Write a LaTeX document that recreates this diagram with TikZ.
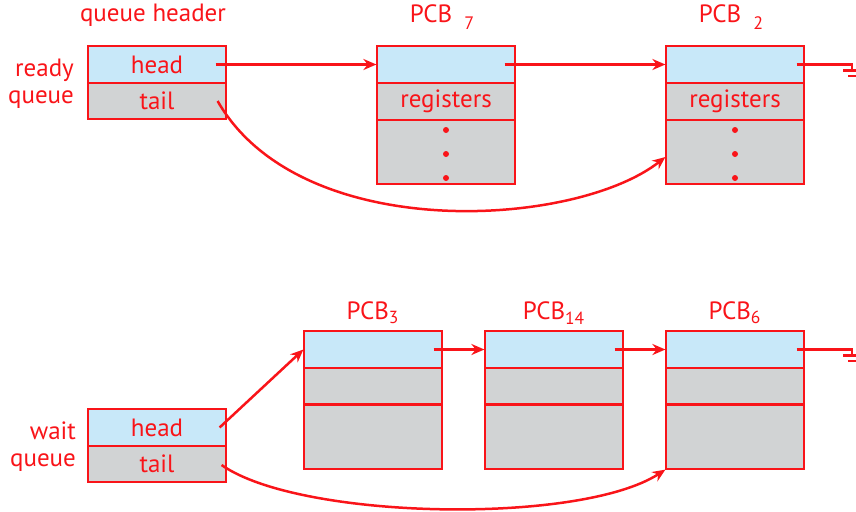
\documentclass[tikz,border=0pt]{standalone}
\usepackage{fontspec}
\setmainfont{PT Sans}
\usetikzlibrary{arrows.meta}

\definecolor{qred}{HTML}{F91419}
\definecolor{qblue}{HTML}{C8E8F9}
\definecolor{qgray}{HTML}{D1D3D4}

\tikzset{
  cell/.style={draw=qred, line width=0.6pt, minimum width=69pt, inner sep=0pt,
    text=qred, font=\fontsize{12.5}{14}\selectfont},
  toprow/.style={cell, fill=qblue, minimum height=18.5pt},
  midrow/.style={cell, fill=qgray, minimum height=18pt},
  lowrow/.style={cell, fill=qgray, minimum height=32pt},
  lbl/.style={text=qred, font=\fontsize{12.5}{14}\selectfont, inner sep=1pt},
  link/.style={qred, line width=1.25pt, -{Stealth[length=6.5pt, width=5.5pt]}},
  earth/.style={qred, line width=1.25pt}
}

\begin{document}
\begin{tikzpicture}[x=0.5pt, y=-0.5pt]
  \useasboundingbox (0,0) rectangle (856,511);

  % ready queue
  \node[lbl, align=right] (rq) at (41,84) {ready\\[-0.5pt]queue};
  \node[lbl] (hdr) at (153,15) {queue header};
  \node[toprow] (rh) at (157,64.5) {head};
  \node[midrow] (rt) at (157,101) {tail};

  \node[toprow] (p7t) at (446,64.5) {};
  \node[midrow] (p7m) at (446,101.5) {registers};
  \node[lowrow] (p7r) at (446,152) {};
  \node[lbl] at (442,17) {PCB\hspace{6pt}\raisebox{-0.6ex}{\small 7}};

  \node[toprow] (p2t) at (735,64.5) {};
  \node[midrow] (p2m) at (735,101.5) {registers};
  \node[lowrow] (p2r) at (735,152) {};
  \node[lbl] at (731,17) {PCB\hspace{6pt}\raisebox{-0.6ex}{\small 2}};

  \foreach \px in {446,735}
    \foreach \py in {130,154,178}
      \fill[qred] (\px,\py) circle (1.5pt);

  \draw[link] ([xshift=-5.5pt]rh.east) -- (p7t.west);
  \draw[link] ([xshift=-5.5pt]p7t.east) -- (p2t.west);
  \draw[link] ([xshift=-4.5pt]rt.east) .. controls (300,245) and (575,228) .. ([yshift=-2.5pt]p2r.west);

  \coordinate (g1) at (852,64.5);
  \draw[earth] ([xshift=-4pt]p2t.east) -- (g1) -- ++(0,6);
  \draw[earth] (843,70.5) -- (856,70.5);
  \draw[earth] (848,76) -- (856,76);

  % wait queue
  \node[lbl, align=right] (wq) at (43,446.5) {wait\\[-0.5pt]queue};
  \node[toprow] (wh) at (157,427.5) {head};
  \node[midrow] (wt) at (157,464) {tail};

  \node[toprow] (p3t) at (373,349.5) {};
  \node[midrow] (p3m) at (373,386) {};
  \node[lowrow] (p3r) at (373,437) {};
  \node[lbl] at (373,313) {PCB\textsubscript{3}};

  \node[toprow] (p14t) at (554,349.5) {};
  \node[midrow] (p14m) at (554,386) {};
  \node[lowrow] (p14r) at (554,437) {};
  \node[lbl] at (554,313) {PCB\textsubscript{14}};

  \node[toprow] (p6t) at (735,349.5) {};
  \node[midrow] (p6m) at (735,386) {};
  \node[lowrow] (p6r) at (735,437) {};
  \node[lbl] at (735,313) {PCB\textsubscript{6}};

  \draw[link] ([xshift=-3.5pt]wh.east) -- (p3t.west);
  \draw[link] ([xshift=-4.5pt]p3t.east) -- (p14t.west);
  \draw[link] ([xshift=-4.5pt]p14t.east) -- (p6t.west);
  \draw[link] ([xshift=-2.5pt,yshift=-0.5pt]wt.east) .. controls (300,520) and (580,525) .. (p6r.south west);

  \coordinate (g2) at (852,349.5);
  \draw[earth] ([xshift=-4pt]p6t.east) -- (g2) -- ++(0,6);
  \draw[earth] (843,355.5) -- (856,355.5);
  \draw[earth] (848,361) -- (856,361);
\end{tikzpicture}
\end{document}
